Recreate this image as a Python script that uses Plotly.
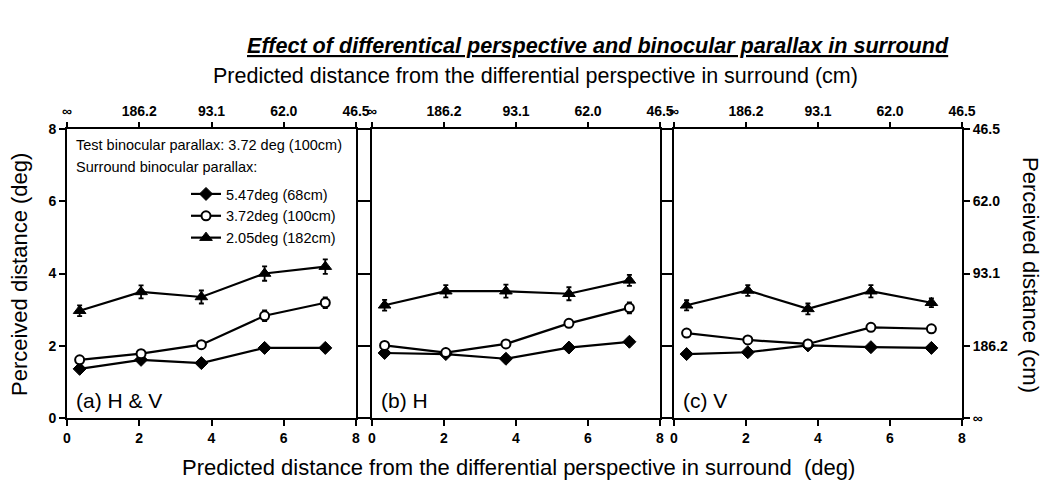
import plotly.graph_objects as go

# Predicted distance from differential perspective (deg)
x_deg = [0.35, 2.05, 3.72, 5.47, 7.15]

# Perceived distance (deg), per panel and surround binocular parallax
a_547 = [1.36, 1.61, 1.52, 1.94, 1.94]
a_372 = [1.61, 1.78, 2.03, 2.83, 3.19]
a_205 = [2.97, 3.49, 3.35, 4.00, 4.19]
b_547 = [1.80, 1.77, 1.64, 1.95, 2.11]
b_372 = [2.01, 1.81, 2.05, 2.62, 3.05]
b_205 = [3.12, 3.51, 3.51, 3.44, 3.81]
c_547 = [1.77, 1.82, 2.01, 1.96, 1.94]
c_372 = [2.35, 2.16, 2.05, 2.51, 2.47]
c_205 = [3.12, 3.53, 3.02, 3.51, 3.19]

# Standard errors
a_547_se = [0.05, 0.05, 0.05, 0.05, 0.05]
a_372_se = [0.05, 0.05, 0.05, 0.15, 0.15]
a_205_se = [0.15, 0.18, 0.18, 0.20, 0.20]
b_547_se = [0.05, 0.05, 0.05, 0.05, 0.05]
b_372_se = [0.05, 0.05, 0.05, 0.05, 0.15]
b_205_se = [0.15, 0.17, 0.18, 0.18, 0.15]
c_547_se = [0.05, 0.05, 0.05, 0.05, 0.05]
c_372_se = [0.05, 0.05, 0.05, 0.05, 0.05]
c_205_se = [0.14, 0.15, 0.15, 0.17, 0.12]

series_names = ["5.47deg (68cm)", "3.72deg (100cm)", "2.05deg (182cm)"]
panel_labels = ["(a) H & V", "(b) H", "(c) V"]

# Tick values / labels shared by the deg axes and the cm axes
deg_ticks = [0, 2, 4, 6, 8]
cm_ticktext = ["\u221e", "186.2", "93.1", "62.0", "46.5"]

W, H = 1050, 482
FONT = "Liberation Sans, Arial, sans-serif"


def px(x):
    return x / W


def py(y):
    return 1 - y / H


panels = [
    (a_547, a_372, a_205, a_547_se, a_372_se, a_205_se),
    (b_547, b_372, b_205, b_547_se, b_372_se, b_205_se),
    (c_547, c_372, c_205, c_547_se, c_372_se, c_205_se),
]
x_domains = [(67, 356), (372, 660), (674, 962)]
y_domain = [py(418), py(129)]

marker_styles = [
    dict(symbol="diamond", size=10, color="black", line=dict(color="black", width=1)),
    dict(symbol="circle", size=9, color="white", line=dict(color="black", width=2)),
    dict(symbol="triangle-up", size=11, color="black", line=dict(color="black", width=1)),
]

fig = go.Figure()

for p, vals in enumerate(panels):
    xa = "x" if p == 0 else f"x{p + 1}"
    ya = "y" if p == 0 else f"y{p + 1}"
    ys = vals[:3]
    ses = vals[3:]
    for s in [0, 1, 2]:
        fig.add_trace(go.Scatter(
            x=x_deg, y=ys[s], xaxis=xa, yaxis=ya,
            mode="lines+markers",
            name=series_names[s],
            showlegend=(p == 0),
            legendrank=s,
            line=dict(color="black", width=2.2),
            marker=marker_styles[s],
            error_y=dict(type="data", array=ses[s], visible=True,
                         color="black", thickness=1.8, width=2.5),
        ))
    # empty trace to bring up the top (cm) axis of this panel
    fig.add_trace(go.Scatter(x=[], y=[], xaxis=f"x{p + 4}", yaxis=ya,
                             showlegend=False, hoverinfo="skip"))

# empty trace for the right-hand (cm) axis
fig.add_trace(go.Scatter(x=[], y=[], xaxis="x3", yaxis="y4",
                         showlegend=False, hoverinfo="skip"))

axis_common = dict(
    showgrid=False, zeroline=False, showline=True, linecolor="black",
    linewidth=2, ticks="outside", ticklen=6, tickwidth=2, tickcolor="black",
    automargin=False,
    tickfont=dict(family=FONT, size=14, color="black", weight="bold"),
)

layout = dict(
    width=W, height=H,
    margin=dict(l=0, r=0, t=0, b=0),
    paper_bgcolor="white", plot_bgcolor="white",
    font=dict(family=FONT, color="black"),
    showlegend=True,
    legend=dict(
        x=px(186), y=py(178), xanchor="left", yanchor="top",
        bgcolor="rgba(0,0,0,0)", borderwidth=0,
        font=dict(family=FONT, size=14.5, color="black"),
        tracegroupgap=0, itemwidth=30,
    ),
)

for p in range(3):
    xk = "xaxis" if p == 0 else f"xaxis{p + 1}"
    yk = "yaxis" if p == 0 else f"yaxis{p + 1}"
    xa_ref = "x" if p == 0 else f"x{p + 1}"
    ya_ref = "y" if p == 0 else f"y{p + 1}"
    d = x_domains[p]
    layout[xk] = dict(axis_common, domain=[px(d[0]), px(d[1])], range=[0, 8],
                      tickvals=deg_ticks, anchor=ya_ref, mirror=True)
    layout[yk] = dict(axis_common, domain=y_domain, range=[0, 8],
                      tickvals=deg_ticks, anchor=xa_ref, mirror="ticks",
                      showticklabels=(p == 0))
    # top cm axis
    layout[f"xaxis{p + 4}"] = dict(axis_common, overlaying=xa_ref, side="top",
                                    anchor=ya_ref, range=[0, 8],
                                    tickvals=deg_ticks, ticktext=cm_ticktext,
                                    ticklen=5)

# right cm axis on panel c
layout["yaxis4"] = dict(axis_common, overlaying="y3", side="right", anchor="x3",
                        range=[0, 8], tickvals=deg_ticks, ticktext=cm_ticktext,
                        domain=y_domain)

fig.update_layout(**layout)

ann = [
    dict(text="<b><i><u>Effect of differentical perspective and binocular parallax in surround</u></i></b>",
         x=px(598), y=py(45), font=dict(size=21.6)),
    dict(text="Predicted distance from the differential perspective in surround (cm)",
         x=px(535), y=py(76), font=dict(size=21.5)),
    dict(text="Predicted distance from the differential perspective in surround  (deg)",
         x=px(518), y=py(467), font=dict(size=22)),
    dict(text="Perceived distance (deg)", x=px(19), y=py(275), textangle=-90,
         font=dict(size=22)),
    dict(text="Perceived distance (cm)", x=px(1031), y=py(275), textangle=90,
         font=dict(size=22)),
    dict(text="Test binocular parallax: 3.72 deg (100cm)", x=px(74), y=py(145),
         xanchor="left", font=dict(size=14.5)),
    dict(text="Surround binocular parallax:", x=px(74), y=py(167),
         xanchor="left", font=dict(size=14.5)),
]
for i, lab in enumerate(panel_labels):
    ann.append(dict(text=lab, x=px(x_domains[i][0] + 7), y=py(400),
                    xanchor="left", font=dict(size=21)))

for a in ann:
    a.setdefault("xanchor", "center")
    a.update(xref="paper", yref="paper", yanchor="middle", showarrow=False)
    a["font"] = dict(family=FONT, color="black", **a["font"])

fig.update_layout(annotations=ann)

fig.write_html("out.html")
